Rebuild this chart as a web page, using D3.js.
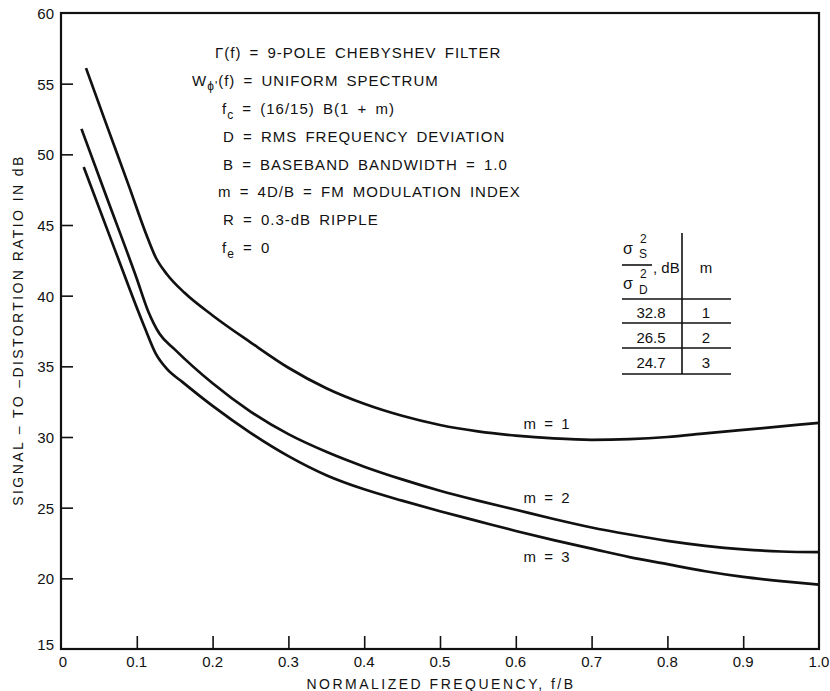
<!DOCTYPE html>
<html>
<head>
<meta charset="utf-8">
<script src="https://cdn.jsdelivr.net/npm/d3@7"></script>
<style>
  body { margin: 0; background: #fff; }
  text { font-family: "Liberation Sans", Arial, sans-serif; fill: #111; }
</style>
</head>
<body>
<script>
// Data
var freqM1 = [0.033, 0.06, 0.09, 0.112, 0.125, 0.14, 0.163, 0.2, 0.25, 0.3, 0.35, 0.4, 0.45, 0.5, 0.55, 0.6, 0.65, 0.7, 0.75, 0.8, 0.85, 0.9, 0.95, 1.0];
var snrM1  = [56.1, 52.1, 47.7, 44.4, 42.7, 41.5, 40.2, 38.6, 36.7, 34.9, 33.45, 32.35, 31.5, 30.85, 30.4, 30.1, 29.9, 29.8, 29.85, 30.0, 30.25, 30.5, 30.75, 31.0];

var freqM2 = [0.027, 0.06, 0.1, 0.115, 0.13, 0.15, 0.2, 0.25, 0.3, 0.35, 0.4, 0.45, 0.5, 0.55, 0.6, 0.65, 0.7, 0.75, 0.8, 0.85, 0.9, 0.95, 1.0];
var snrM2  = [51.8, 47.0, 41.2, 38.9, 37.3, 36.2, 33.8, 31.8, 30.2, 28.95, 27.9, 27.0, 26.2, 25.5, 24.85, 24.2, 23.6, 23.1, 22.65, 22.3, 22.05, 21.9, 21.85];

var freqM3 = [0.03, 0.07, 0.11, 0.125, 0.14, 0.16, 0.2, 0.25, 0.3, 0.35, 0.4, 0.45, 0.5, 0.55, 0.6, 0.65, 0.7, 0.75, 0.8, 0.85, 0.9, 0.95, 1.0];
var snrM3  = [49.1, 43.4, 37.8, 35.9, 34.8, 33.9, 32.2, 30.3, 28.65, 27.3, 26.3, 25.5, 24.75, 24.05, 23.35, 22.7, 22.1, 21.5, 21.0, 20.5, 20.1, 19.8, 19.55];

var curveLabels = ["m = 1", "m = 2", "m = 3"];
var labelPos = [[0.61, 30.55], [0.61, 25.35], [0.61, 21.15]];

var tableDb = ["32.8", "26.5", "24.7"];
var tableM = ["1", "2", "3"];

var xTicks = [0, 0.1, 0.2, 0.3, 0.4, 0.5, 0.6, 0.7, 0.8, 0.9, 1.0];
var yTicks = [15, 20, 25, 30, 35, 40, 45, 50, 55, 60];

var width = 830;
var height = 691;

var svg = d3.select("body").append("svg")
    .attr("width", width)
    .attr("height", height);

var x = d3.scaleLinear().domain([0, 1]).range([61, 819]);
var y = d3.scaleLinear().domain([15, 60]).range([649, 13]);

// Frame
svg.append("rect")
    .attr("x", x(0)).attr("y", y(60))
    .attr("width", x(1) - x(0)).attr("height", y(15) - y(60))
    .attr("fill", "none").attr("stroke", "#111").attr("stroke-width", 2.2);

// Axes (inward ticks)
var xAxis = d3.axisTop(x).tickValues(xTicks.slice(1, -1)).tickSize(13).tickFormat("");
svg.append("g").attr("transform", "translate(0," + y(15) + ")").call(xAxis)
    .call(function (g) { g.select(".domain").remove(); })
    .selectAll("line").attr("stroke", "#111").attr("stroke-width", 1.6);

var yAxis = d3.axisRight(y).tickValues(yTicks.slice(1, -1)).tickSize(12).tickFormat("");
svg.append("g").attr("transform", "translate(" + x(0) + ",0)").call(yAxis)
    .call(function (g) { g.select(".domain").remove(); })
    .selectAll("line").attr("stroke", "#111").attr("stroke-width", 1.6);

// Tick labels
svg.append("g").selectAll("text")
    .data(xTicks)
    .enter().append("text")
    .attr("x", function (d) { return d === 0 ? x(d) + 2 : x(d); })
    .attr("y", 667)
    .attr("text-anchor", "middle")
    .attr("font-size", "15px")
    .text(function (d) { return d === 0 ? "0" : d3.format(".1f")(d); });

svg.append("g").selectAll("text")
    .data(yTicks)
    .enter().append("text")
    .attr("x", 54)
    .attr("y", function (d) { return d === 15 ? y(d) + 1 : y(d) + 6; })
    .attr("text-anchor", "end")
    .attr("font-size", "15px")
    .text(function (d) { return d; });

// Axis titles
svg.append("text")
    .attr("x", 441).attr("y", 689)
    .attr("text-anchor", "middle")
    .attr("font-size", "14px")
    .attr("letter-spacing", "2.5px")
    .text("NORMALIZED FREQUENCY, f/B");

svg.append("text")
    .attr("transform", "translate(23,330) rotate(-90)")
    .attr("text-anchor", "middle")
    .attr("font-size", "14px")
    .attr("letter-spacing", "2.4px")
    .attr("xml:space", "preserve")
    .text("SIGNAL – TO –DISTORTION RATIO IN dB");

// Curves
var line = d3.line()
    .x(function (d) { return x(d[0]); })
    .y(function (d) { return y(d[1]); })
    .curve(d3.curveMonotoneX);

var series = [d3.zip(freqM1, snrM1), d3.zip(freqM2, snrM2), d3.zip(freqM3, snrM3)];

svg.append("g").selectAll("path")
    .data(series)
    .enter().append("path")
    .attr("d", line)
    .attr("fill", "none")
    .attr("stroke", "#111")
    .attr("stroke-width", 2.7);

svg.append("g").selectAll("text")
    .data(curveLabels)
    .enter().append("text")
    .attr("x", function (d, i) { return x(labelPos[i][0]); })
    .attr("y", function (d, i) { return y(labelPos[i][1]); })
    .attr("font-size", "15px")
    .attr("xml:space", "preserve")
    .text(function (d) { return d.replace(/ /g, "  "); });

// Annotation block
var notes = svg.append("g")
    .attr("font-size", "15px")
    .attr("letter-spacing", "1px")
    .attr("word-spacing", "3px");

function note(xPos, yPos) {
    return notes.append("text").attr("x", xPos).attr("y", yPos);
}

note(215, 58).text("Γ(f) = 9-POLE CHEBYSHEV FILTER");

var t2 = note(192, 86);
t2.append("tspan").text("W");
t2.append("tspan").attr("font-size", "12px").attr("dy", 4).text("ϕ'");
t2.append("tspan").attr("dy", -4).text("(f) = UNIFORM SPECTRUM");

var t3 = note(222, 114);
t3.append("tspan").text("f");
t3.append("tspan").attr("font-size", "12px").attr("dy", 5).text("c");
t3.append("tspan").attr("dy", -5).text(" = (16/15)  B(1 + m)");

note(223, 142).text("D = RMS FREQUENCY DEVIATION");
note(223, 170).text("B = BASEBAND BANDWIDTH = 1.0");
note(218, 197).text("m = 4D/B = FM MODULATION INDEX");
note(223, 225).text("R = 0.3-dB RIPPLE");

var t8 = note(222, 253);
t8.append("tspan").text("f");
t8.append("tspan").attr("font-size", "12px").attr("dy", 5).text("e");
t8.append("tspan").attr("dy", -5).text(" = 0");

// Table
var tbl = svg.append("g").attr("stroke", "#111").attr("stroke-width", 1.6);
tbl.append("line").attr("x1", 682).attr("x2", 682).attr("y1", 233).attr("y2", 374);
[299, 323, 348, 374].forEach(function (yy) {
    tbl.append("line").attr("x1", 622).attr("x2", 731).attr("y1", yy).attr("y2", yy);
});
tbl.append("line").attr("x1", 622).attr("x2", 652).attr("y1", 265).attr("y2", 265);

var th = svg.append("g").attr("font-size", "16px");
th.append("text").attr("x", 623).attr("y", 254).text("σ");
th.append("text").attr("x", 640).attr("y", 243).attr("font-size", "12px").text("2");
th.append("text").attr("x", 639).attr("y", 258).attr("font-size", "12px").text("S");
th.append("text").attr("x", 623).attr("y", 289).text("σ");
th.append("text").attr("x", 640).attr("y", 278).attr("font-size", "12px").text("2");
th.append("text").attr("x", 639).attr("y", 294).attr("font-size", "12px").text("D");
th.append("text").attr("x", 653).attr("y", 273).attr("font-size", "15px").text(", dB");
th.append("text").attr("x", 706).attr("y", 273).attr("font-size", "15px").attr("text-anchor", "middle").text("m");

svg.append("g").selectAll("text")
    .data(tableDb)
    .enter().append("text")
    .attr("x", 651)
    .attr("y", function (d, i) { return 318 + i * 25; })
    .attr("text-anchor", "middle")
    .attr("font-size", "15px")
    .text(function (d) { return d; });

svg.append("g").selectAll("text")
    .data(tableM)
    .enter().append("text")
    .attr("x", 706)
    .attr("y", function (d, i) { return 318 + i * 25; })
    .attr("text-anchor", "middle")
    .attr("font-size", "15px")
    .text(function (d) { return d; });
</script>
</body>
</html>
